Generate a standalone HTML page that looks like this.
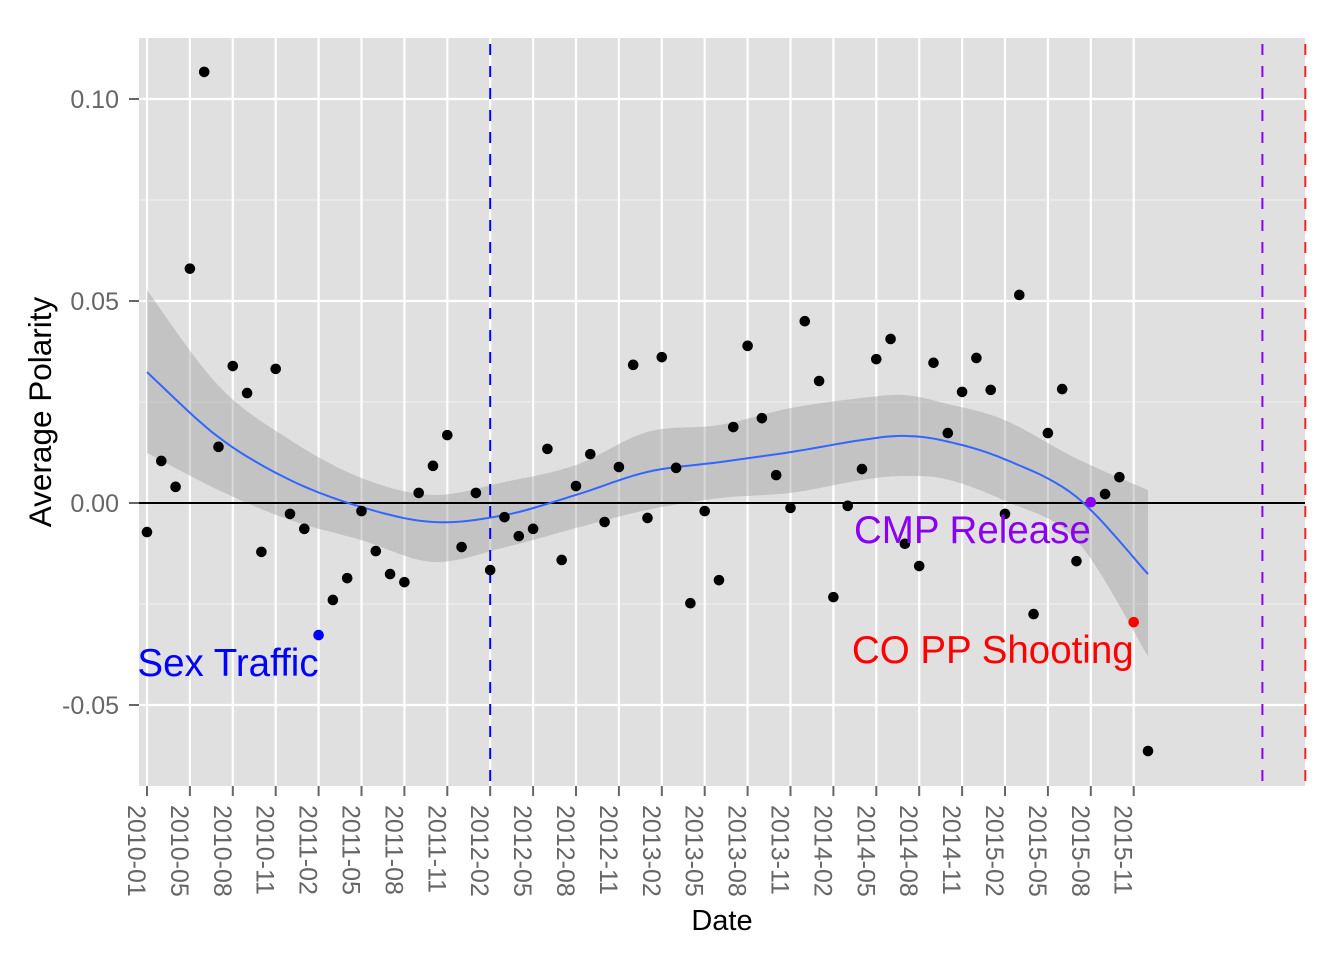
<!DOCTYPE html>
<html><head><meta charset="utf-8"><style>
html,body{margin:0;padding:0;background:#fff;}
svg{display:block;font-family:"Liberation Sans",Arial,sans-serif;}
</style></head><body>
<svg id="chart" width="1344" height="960" xmlns="http://www.w3.org/2000/svg">
<rect x="139" y="38" width="1166" height="748" fill="#e0e0e0"/>
<g id="grid"></g>
<g id="band"></g>
<g id="vlines"></g>
<g id="pts"></g>
<g id="ann"></g>
<g id="axes"></g>
<text x="722" y="930" font-size="29" text-anchor="middle" fill="#000">Date</text>
<text transform="translate(51,412) rotate(-90)" font-size="31.5" text-anchor="middle" fill="#000">Average Polarity</text>
</svg>
<script>
const values = [-0.0072,0.0104,0.0040,0.058,0.1067,0.0139,0.0339,0.0272,-0.0121,0.0332,-0.0027,-0.0064,-0.0327,-0.024,-0.0186,-0.002,-0.0119,-0.0176,-0.0196,0.0025,0.0092,0.0168,-0.0109,0.0025,-0.0166,-0.0035,-0.0082,-0.0064,0.0134,-0.0141,0.0042,0.0121,-0.0047,0.0089,0.0342,-0.0037,0.0361,0.0087,-0.0248,-0.002,-0.0191,0.0188,0.0389,0.021,0.0069,-0.0012,0.045,0.0302,-0.0233,-0.0007,0.0084,0.0356,0.0406,-0.0101,-0.0156,0.0347,0.0173,0.0275,0.0359,0.028,-0.0027,0.0515,-0.0275,0.0173,0.0282,-0.0144,0.0002,0.0022,0.0064,-0.0295,-0.0614];
const xTickLabels = ["2010-01","2010-05","2010-08","2010-11","2011-02","2011-05","2011-08","2011-11","2012-02","2012-05","2012-08","2012-11","2013-02","2013-05","2013-08","2013-11","2014-02","2014-05","2014-08","2014-11","2015-02","2015-05","2015-08","2015-11"];
const yTicks = [0.10,0.05,0.00,-0.05];
const yTickLabels = ["0.10","0.05","0.00","-0.05"];
const smoothIdx = [0,5,10,15,20,25,30,35,40,45,50,53,56,60,65,70];
const smoothFit = [0.0324,0.0163,0.0057,-0.001,-0.0047,-0.003,0.002,0.0077,0.0101,0.0126,0.0156,0.0166,0.0152,0.0108,0.0015,-0.0176];
const smoothUpper = [0.0527,0.029,0.0156,0.0062,0.002,0.0052,0.0094,0.0176,0.0193,0.0235,0.026,0.0267,0.0245,0.0205,0.011,0.0032];
const smoothLower = [0.0124,0.0032,-0.0042,-0.0092,-0.0146,-0.011,-0.0062,-0.0017,0.0012,0.0025,0.0057,0.0067,0.0058,0.0005,-0.0092,-0.038];
const events = [{label:"Sex Traffic",idx:12,color:"#0000ff"},{label:"CMP Release",idx:66,color:"#8b00ee"},{label:"CO PP Shooting",idx:69,color:"#ff0000"}];
const eventLines = [{idx:24,color:"#0000ff"},{idx:78,color:"#8b00ee"},{idx:81,color:"#ff2020"}];

const NS="http://www.w3.org/2000/svg";
const X = i => 147 + i*14.3;
const Y = v => 503 - v*4040;
const T=38,B=786,L=139,R=1305;
function mk(tag,attrs,parent){const e=document.createElementNS(NS,tag);for(const k in attrs)e.setAttribute(k,attrs[k]);parent.appendChild(e);return e;}
const grid=document.getElementById('grid');
for(let k=0;k<yTicks.length;k++){
  const yv=yTicks[k]-0.025;
  if(Y(yv)>T&&Y(yv)<B){const m=mk('line',{x1:L,x2:R,y1:Y(yv),y2:Y(yv),stroke:'#f0f0f0','stroke-width':1},grid);
  
  }
}
const topMinor=mk('line',{x1:L,x2:R,y1:Y(0.125),y2:Y(0.125),stroke:'#f0f0f0','stroke-width':1},grid);


yTicks.forEach(v=>{const g=mk('line',{x1:L,x2:R,y1:Y(v),y2:Y(v),stroke:'#fff','stroke-width':2.2},grid);

});
xTickLabels.forEach((t,k)=>{const g=mk('line',{x1:X(k*3),x2:X(k*3),y1:T,y2:B,stroke:'#fff','stroke-width':2.2},grid);

});
function curve(idx,vals){let pts=idx.map((i,k)=>[X(i),Y(vals[k])]);let d=[];
 for(let k=0;k<pts.length-1;k++){const p0=pts[Math.max(0,k-1)],p1=pts[k],p2=pts[k+1],p3=pts[Math.min(pts.length-1,k+2)];
  for(let s=0;s<=10;s++){const t=s/10,t2=t*t,t3=t2*t;
   const x=0.5*((2*p1[0])+(-p0[0]+p2[0])*t+(2*p0[0]-5*p1[0]+4*p2[0]-p3[0])*t2+(-p0[0]+3*p1[0]-3*p2[0]+p3[0])*t3);
   const y=0.5*((2*p1[1])+(-p0[1]+p2[1])*t+(2*p0[1]-5*p1[1]+4*p2[1]-p3[1])*t2+(-p0[1]+3*p1[1]-3*p2[1]+p3[1])*t3);
   d.push([x,y]);}}
 return d;}
const band=document.getElementById('band');
const up=curve(smoothIdx,smoothUpper), lo=curve(smoothIdx,smoothLower).reverse();
const bp=mk('path',{d:'M'+up.concat(lo).map(p=>p[0].toFixed(1)+','+p[1].toFixed(1)).join('L')+'Z',fill:'#999','fill-opacity':0.4},band);


const zl=mk('line',{x1:L,x2:R,y1:Y(0),y2:Y(0),stroke:'#000','stroke-width':2},band);


const fit=curve(smoothIdx,smoothFit);
const fl=mk('path',{d:'M'+fit.map(p=>p[0].toFixed(1)+','+p[1].toFixed(1)).join('L'),fill:'none',stroke:'#3366ff','stroke-width':2},band);


const vl=document.getElementById('vlines');
eventLines.forEach(e=>{const l=mk('line',{x1:X(e.idx),x2:X(e.idx),y1:T,y2:B,stroke:e.color,'stroke-width':2,'stroke-dasharray':'11,11','stroke-dashoffset':-6},vl);

});
const pts=document.getElementById('pts');
const colorMap={};events.forEach(e=>colorMap[e.idx]=e.color);
values.forEach((v,i)=>{const c=mk('circle',{cx:X(i),cy:Y(v),r:5.3,fill:colorMap[i]||'#000'},pts);

});
const ann=document.getElementById('ann');
events.forEach(e=>{const t=mk('text',{x:X(e.idx),y:Y(values[e.idx])+41,'text-anchor':'end','font-size':38.5,fill:e.color},ann);t.textContent=e.label;

});
const axes=document.getElementById('axes');
yTicks.forEach((v,k)=>{const tk=mk('line',{x1:129,x2:139,y1:Y(v),y2:Y(v),stroke:'#666','stroke-width':2},axes);


const t=mk('text',{x:119,y:Y(v)+9,'text-anchor':'end','font-size':25,fill:'#666'},axes);t.textContent=yTickLabels[k];

});
xTickLabels.forEach((s,k)=>{const x=X(k*3);const tk=mk('line',{x1:x,x2:x,y1:786,y2:796,stroke:'#666','stroke-width':2},axes);


const t=mk('text',{transform:`translate(${x-19},805) rotate(90)`,'font-size':25,fill:'#666'},axes);t.textContent=s;

});
</script>
</body></html>
